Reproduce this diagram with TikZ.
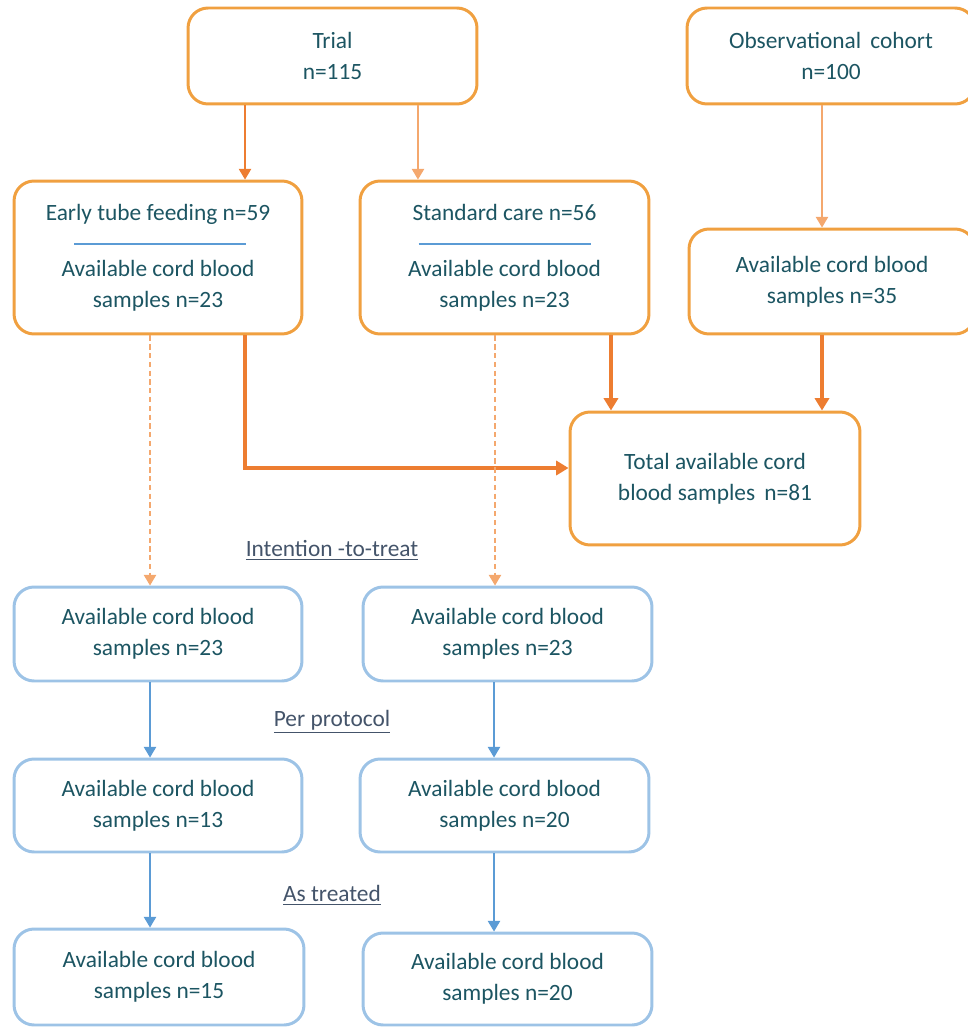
\documentclass[tikz,border=0pt]{standalone}
\usepackage{fontspec}
\setmainfont{Carlito}
\usetikzlibrary{arrows.meta}
\definecolor{boxorange}{RGB}{240,160,64}
\definecolor{arroworange}{RGB}{237,125,49}
\definecolor{lightorange}{RGB}{244,168,110}
\definecolor{boxblue}{RGB}{157,195,230}
\definecolor{arrowblue}{RGB}{91,155,213}
\definecolor{textteal}{RGB}{28,85,98}
\definecolor{labelgray}{RGB}{68,84,106}
\begin{document}
\begin{tikzpicture}[x=0.02cm, y=-0.02cm,
  box/.style={rectangle, rounded corners=0.4cm, line width=1.7pt, align=center, text=textteal, font=\fontsize{13.3}{17.6}\selectfont, inner sep=0pt},
  obox/.style={box, draw=boxorange},
  bbox/.style={box, draw=boxblue},
  lbl/.style={text=labelgray, font=\fontsize{13.3}{17.6}\selectfont},
  thin/.style={-{Triangle[width=7pt,length=6pt]}, line width=0.6pt, arroworange},
  thick/.style={-{Triangle[width=8pt,length=7pt]}, line width=2.3pt, arroworange},
  dashedarrow/.style={thin, lightorange, dash pattern=on 3pt off 2pt},
  bluearrow/.style={thin, arrowblue},
  sepline/.style={line width=0.6pt, arrowblue}]
  \useasboundingbox (0,0) rectangle (967,1027);
  % top row
  \node[obox, minimum width=5.78cm, minimum height=1.92cm] (trial) at (332.5,56) {Trial\\n=115};
  \node[obox, minimum width=5.76cm, minimum height=1.92cm] (obs) at (831,56) {Observational\, cohort\\n=100};
  % arms
  \node[obox, minimum width=5.76cm, minimum height=3.06cm] (early) at (158,257.5) {Early tube feeding n=59\\[14.5pt]Available cord blood\\samples n=23};
  \node[obox, minimum width=5.78cm, minimum height=3.06cm] (standard) at (504.5,257.5) {Standard care n=56\\[14.5pt]Available cord blood\\samples n=23};
  \node[obox, minimum width=5.72cm, minimum height=2.1cm] (obsavail) at (832,281.5) {Available cord blood\\samples n=35};
  \node[obox, minimum width=5.8cm, minimum height=2.66cm] (total) at (715,478.5) {Total available cord\\blood samples\, n=81};
  \draw[sepline] (early.center) ++(-84,-13.5) -- ++(172,0);
  \draw[sepline] (standard.center) ++(-86,-13.5) -- ++(172,0);
  % analyses
  \node[lbl] (itt) at (332,550) {\underline{Intention -to-treat}};
  \node[bbox, minimum width=5.76cm, minimum height=1.88cm] (ittL) at (158,634) {Available cord blood\\samples n=23};
  \node[bbox, minimum width=5.78cm, minimum height=1.88cm] (ittR) at (507.5,634) {Available cord blood\\samples n=23};
  \node[lbl] (pp) at (332,722) {\underline{Per protocol}};
  \node[bbox, minimum width=5.76cm, minimum height=1.86cm] (ppL) at (158,805.5) {Available cord blood\\samples n=13};
  \node[bbox, minimum width=5.78cm, minimum height=1.86cm] (ppR) at (504.5,805.5) {Available cord blood\\samples n=20};
  \node[lbl] (at) at (332,895) {\underline{As treated}};
  \node[bbox, minimum width=5.8cm, minimum height=1.92cm] (atL) at (159,977) {Available cord blood\\samples n=15};
  \node[bbox, minimum width=5.78cm, minimum height=1.84cm] (atR) at (507.5,979) {Available cord blood\\samples n=20};
  % connectors
  \draw[thin] ([xshift=-1.75cm]trial.south) -- ([xshift=-1.75cm]trial.south |- early.north);
  \draw[thin, lightorange] ([xshift=1.71cm]trial.south) -- ([xshift=1.71cm]trial.south |- standard.north);
  \draw[thin, lightorange] ([xshift=-0.18cm]obs.south) -- ([xshift=-0.18cm]obs.south |- obsavail.north);
  \draw[thick] ([xshift=1.74cm]early.south) |- ([yshift=0.21cm]total.west);
  \draw[thick] ([xshift=2.13cm]standard.south) -- ([xshift=2.13cm]standard.south |- total.north);
  \draw[thick] ([xshift=-0.2cm]obsavail.south) -- ([xshift=-0.2cm]obsavail.south |- total.north);
  \draw[dashedarrow] ([xshift=-0.16cm]early.south) -- ([xshift=-0.16cm]early.south |- ittL.north);
  \draw[dashedarrow] ([xshift=-0.19cm]standard.south) -- ([xshift=-0.19cm]standard.south |- ittR.north);
  \draw[bluearrow] ([xshift=-0.16cm]ittL.south) -- ([xshift=-0.16cm]ittL.south |- ppL.north);
  \draw[bluearrow] ([xshift=-0.27cm]ittR.south) -- ([xshift=-0.27cm]ittR.south |- ppR.north);
  \draw[bluearrow] ([xshift=-0.16cm]ppL.south) -- ([xshift=-0.16cm]ppL.south |- atL.north);
  \draw[bluearrow] ([xshift=-0.21cm]ppR.south) -- ([xshift=-0.21cm]ppR.south |- atR.north);
\end{tikzpicture}
\end{document}
